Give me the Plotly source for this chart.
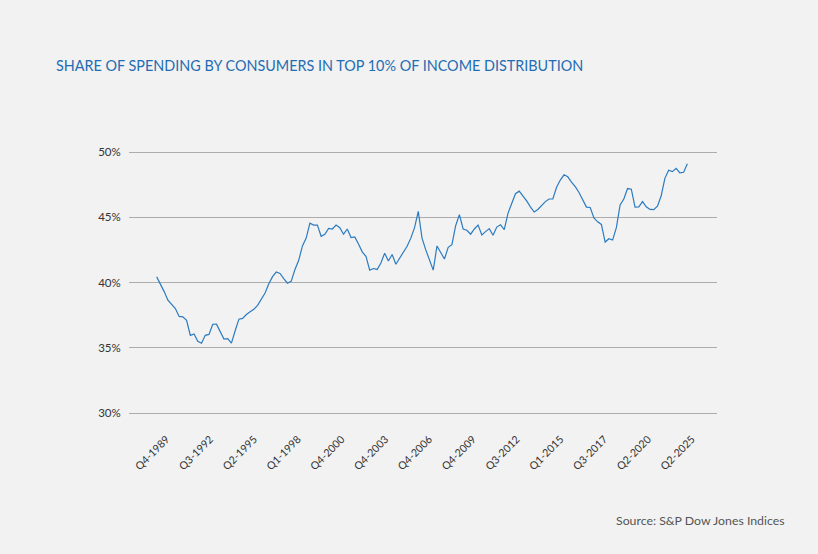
import plotly.graph_objects as go

values = [
    40.43, 39.9, 39.3, 38.65, 38.32, 38.0, 37.4, 37.37, 37.1, 35.95,
    36.05, 35.5, 35.35, 35.95, 36.02, 36.8, 36.81, 36.2, 35.66, 35.7,
    35.35, 36.3, 37.19, 37.25, 37.55, 37.75, 37.95, 38.25, 38.75, 39.2,
    39.9, 40.45, 40.8, 40.69, 40.3, 39.95, 40.1, 41.0, 41.7, 42.8,
    43.4, 44.55, 44.4, 44.4, 43.54, 43.7, 44.15, 44.1, 44.4, 44.2,
    43.7, 44.1, 43.45, 43.49, 42.95, 42.35, 42.0, 40.95, 41.07, 41.0,
    41.5, 42.25, 41.65, 42.15, 41.4, 41.85, 42.3, 42.78, 43.4, 44.2,
    45.45, 43.4, 42.5, 41.75, 40.95, 42.8, 42.3, 41.8, 42.7, 42.9,
    44.35, 45.2, 44.1, 44.0, 43.7, 44.1, 44.4, 43.65, 43.9, 44.13,
    43.62, 44.25, 44.43, 44.05, 45.3, 46.0, 46.8, 47.0, 46.65, 46.25,
    45.8, 45.4, 45.6, 45.9, 46.2, 46.4, 46.4, 47.3, 47.85, 48.25,
    48.1, 47.7, 47.35, 46.9, 46.3, 45.78, 45.75, 44.95, 44.65, 44.45,
    43.1, 43.35, 43.25, 44.2, 45.95, 46.4, 47.2, 47.15, 45.78, 45.8,
    46.2, 45.8, 45.6, 45.58, 45.85, 46.65, 48.0, 48.6, 48.5, 48.75,
    48.4, 48.45, 49.1,
]

tick_labels = ["Q4-1989", "Q3-1992", "Q2-1995", "Q1-1998", "Q4-2000", "Q4-2003",
               "Q4-2006", "Q4-2009", "Q3-2012", "Q1-2015", "Q3-2017", "Q2-2020",
               "Q2-2025"]
y_ticks = [30, 35, 40, 45, 50]
y_labels = ["30%", "35%", "40%", "45%", "50%"]

title = "SHARE OF SPENDING BY CONSUMERS IN TOP 10% OF INCOME DISTRIBUTION"
source = "Source: S&P Dow Jones Indices"

n = len(values)
xs = list(range(n))
first_tick, last_tick = 2.6, 143.2
step = (last_tick - first_tick) / (len(tick_labels) - 1)
tick_pos = [first_tick + i * step for i in range(len(tick_labels))]

fig = go.Figure()
fig.add_trace(go.Scatter(x=xs, y=values, mode="lines",
                         line=dict(color="#2b7bc0", width=1.2),
                         hoverinfo="skip", showlegend=False))

BG = "#f2f2f2"
L, R, T, B = 129, 101, 149, 138
fig.update_layout(
    width=818, height=554,
    paper_bgcolor=BG, plot_bgcolor=BG,
    margin=dict(l=L, r=R, t=T, b=B),
    font=dict(family="Lato, 'Open Sans', sans-serif", color="#333333"),
    xaxis=dict(range=[-7.41, 149.93], tickvals=tick_pos, ticktext=tick_labels,
               tickangle=-45, showgrid=False, zeroline=False, showline=False,
               ticks="outside", ticklen=12, tickcolor="rgba(0,0,0,0)",
               tickfont=dict(size=10.6, color="#333333")),
    yaxis=dict(range=[29.77, 50.23], tickvals=y_ticks, ticktext=y_labels,
               showgrid=True, gridcolor="#acacac", gridwidth=1,
               zeroline=False, showline=False, ticks="outside", ticklen=5,
               tickcolor="rgba(0,0,0,0)",
               tickfont=dict(size=11.5, color="#333333")),
)
plot_w = 818 - L - R
plot_h = 554 - T - B
fig.add_annotation(text=title, xref="paper", yref="paper",
                   x=(54 - L) / plot_w, y=(554 - B - 66) / plot_h,
                   xanchor="left", yanchor="middle", showarrow=False,
                   font=dict(size=14.4, color="#1f6db3"))
fig.add_annotation(text=source, xref="paper", yref="paper",
                   x=(787 - L) / plot_w, y=(554 - B - 520) / plot_h,
                   xanchor="right", yanchor="middle", showarrow=False,
                   font=dict(size=12.3, color="#555555"))

fig.write_html("out.html")
